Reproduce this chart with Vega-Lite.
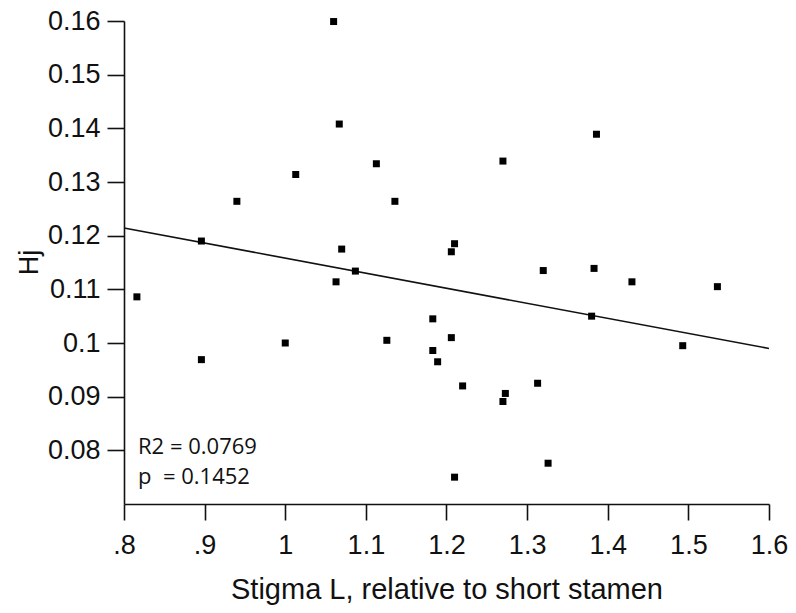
{
  "$schema": "https://vega.github.io/schema/vega-lite/v6.json",
  "autosize": "none",
  "width": 645,
  "height": 483,
  "padding": {"left": 124, "top": 21, "right": 27, "bottom": 109},
  "background": "white",
  "config": {
    "view": {"stroke": null},
    "axis": {
      "grid": false,
      "domainColor": "#111",
      "tickColor": "#111",
      "domainWidth": 1.6,
      "tickWidth": 1.6,
      "labelFont": "Liberation Sans",
      "labelFontSize": 27,
      "labelColor": "#111",
      "titleFont": "Liberation Sans",
      "titleFontWeight": "normal",
      "titleColor": "#111"
    }
  },
  "datasets": {
    "points": [
      {"x": 1.060, "y": 0.1599},
      {"x": 1.067, "y": 0.1408},
      {"x": 1.113, "y": 0.1334},
      {"x": 1.013, "y": 0.1314},
      {"x": 0.940, "y": 0.1264},
      {"x": 1.136, "y": 0.1264},
      {"x": 0.896, "y": 0.1190},
      {"x": 1.070, "y": 0.1175},
      {"x": 1.087, "y": 0.1134},
      {"x": 1.063, "y": 0.1114},
      {"x": 0.816, "y": 0.1086},
      {"x": 1.270, "y": 0.1339},
      {"x": 1.386, "y": 0.1389},
      {"x": 1.210, "y": 0.1185},
      {"x": 1.206, "y": 0.1170},
      {"x": 1.320, "y": 0.1135},
      {"x": 1.383, "y": 0.1139},
      {"x": 1.430, "y": 0.1114},
      {"x": 1.536, "y": 0.1105},
      {"x": 0.896, "y": 0.0969},
      {"x": 1.000, "y": 0.1000},
      {"x": 1.126, "y": 0.1005},
      {"x": 1.183, "y": 0.1045},
      {"x": 1.206, "y": 0.1010},
      {"x": 1.183, "y": 0.0986},
      {"x": 1.189, "y": 0.0965},
      {"x": 1.220, "y": 0.0920},
      {"x": 1.273, "y": 0.0906},
      {"x": 1.270, "y": 0.0891},
      {"x": 1.313, "y": 0.0925},
      {"x": 1.380, "y": 0.1050},
      {"x": 1.493, "y": 0.0995},
      {"x": 1.326, "y": 0.0776},
      {"x": 1.210, "y": 0.0750}
    ],
    "fit": [
      {"x": 0.8, "y": 0.12143},
      {"x": 1.6, "y": 0.09898}
    ]
  },
  "layer": [
    {
      "data": {"name": "fit"},
      "mark": {"type": "line", "color": "#111", "strokeWidth": 1.6},
      "encoding": {
        "x": {
          "field": "x", "type": "quantitative",
          "scale": {"domain": [0.8, 1.6], "nice": false, "zero": false},
          "axis": {
            "title": "Stigma L, relative to short stamen",
            "titleFontSize": 29,
            "titleBaseline": "alphabetic",
            "titleY": 94,
            "values": [0.8, 0.9, 1.0, 1.1, 1.2, 1.3, 1.4, 1.5, 1.6],
            "tickSize": 16,
            "labelBaseline": "alphabetic",
            "labelPadding": 33,
            "labelFlush": false,
            "labelOverlap": false,
            "labelExpr": "datum.value < 0.999 ? '.' + format(datum.value * 10, '.0f') : format(datum.value, '.1~f')"
          }
        },
        "y": {
          "field": "y", "type": "quantitative",
          "scale": {"domain": [0.07, 0.16], "nice": false, "zero": false},
          "axis": {
            "title": "Hj",
            "titleFontSize": 27,
            "titleAngle": -90,
            "titleBaseline": "alphabetic",
            "titleAlign": "center",
            "titleX": -87,
            "titleY": 241,
            "values": [0.08, 0.09, 0.1, 0.11, 0.12, 0.13, 0.14, 0.15, 0.16],
            "format": ".2~f",
            "tickSize": 17,
            "labelPadding": 7,
            "labelFlush": false,
            "labelOverlap": false
          }
        }
      }
    },
    {
      "data": {"name": "points"},
      "mark": {"type": "point", "shape": "square", "filled": true, "size": 49, "color": "#000", "opacity": 1, "strokeWidth": 0},
      "encoding": {
        "x": {"field": "x", "type": "quantitative"},
        "y": {"field": "y", "type": "quantitative"}
      }
    },
    {
      "data": {"values": [{}]},
      "mark": {
        "type": "text",
        "text": ["R2 = 0.0769", "p\u00a0\u00a0= 0.1452"],
        "font": "Open Sans",
        "fontSize": 22,
        "lineHeight": 30,
        "align": "left",
        "baseline": "alphabetic",
        "color": "#111"
      },
      "encoding": {
        "x": {"datum": 0.8174, "type": "quantitative"},
        "y": {"datum": 0.07926, "type": "quantitative"}
      }
    }
  ]
}
